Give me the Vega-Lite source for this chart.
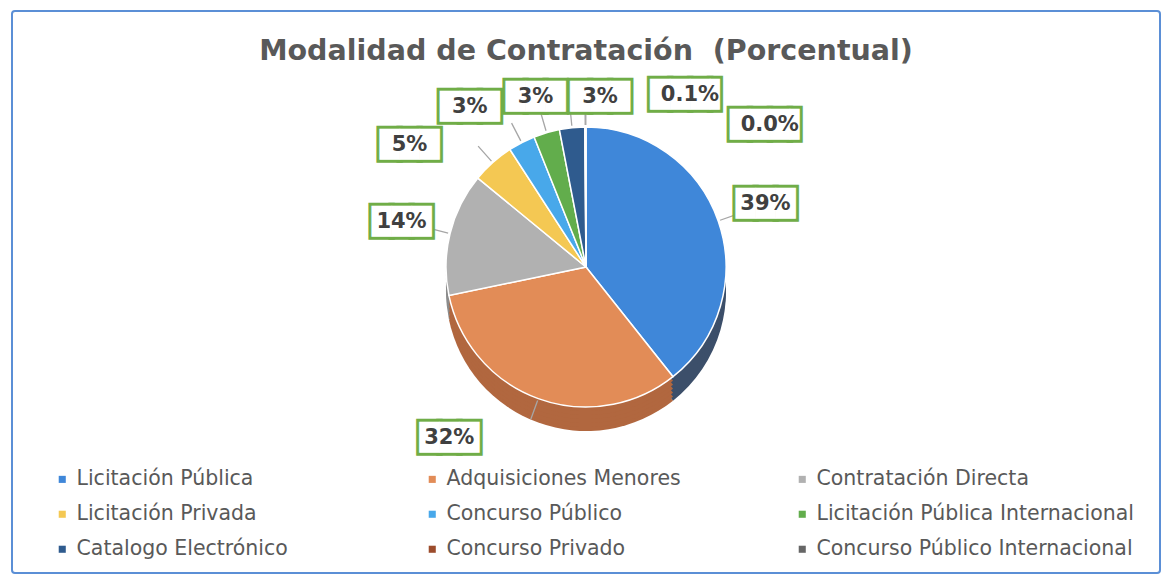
{
  "$schema": "https://vega.github.io/schema/vega-lite/v6.json",
  "width": 1148,
  "height": 562,
  "autosize": {"type": "none"},
  "padding": {"left": 12, "top": 11, "right": 7, "bottom": 6},
  "background": "white",
  "title": {
    "text": "Modalidad de Contratación\u00a0\u00a0(Porcentual)",
    "font": "DejaVu Sans",
    "fontSize": 28.5,
    "fontWeight": "bold",
    "color": "#595959",
    "anchor": "middle",
    "baseline": "alphabetic",
    "offset": -78
  },
  "config": {
    "view": {"stroke": null},
    "legend": {"padding": 0}
  },
  "resolve": {"scale": {"color": "independent"}},
  "data": {
    "values": [
      {"modalidad": "Licitación Pública", "valor": 39.3, "etiqueta": "39%", "orden": 1},
      {"modalidad": "Adquisiciones Menores", "valor": 32.4, "etiqueta": "32%", "orden": 2},
      {"modalidad": "Contratación Directa", "valor": 14.2, "etiqueta": "14%", "orden": 3},
      {"modalidad": "Licitación Privada", "valor": 4.9, "etiqueta": "5%", "orden": 4},
      {"modalidad": "Concurso Público", "valor": 3.1, "etiqueta": "3%", "orden": 5},
      {"modalidad": "Licitación Pública Internacional", "valor": 3.0, "etiqueta": "3%", "orden": 6},
      {"modalidad": "Catalogo Electrónico", "valor": 2.9, "etiqueta": "3%", "orden": 7},
      {"modalidad": "Concurso Privado", "valor": 0.1, "etiqueta": "0.1%", "orden": 8},
      {"modalidad": "Concurso Público Internacional", "valor": 0.04, "etiqueta": "0.0%", "orden": 9}
    ]
  },
  "encoding": {
    "theta": {"field": "valor", "type": "quantitative", "stack": true},
    "order": {"field": "orden", "type": "quantitative"}
  },
  "layer": [
    {
      "data": {"values": [{}]},
      "mark": {"type": "rect", "fillOpacity": 0, "stroke": "#5b8fd6", "strokeWidth": 2, "cornerRadius": 3},
      "encoding": {"theta": null, "order": null}
    },
    {
      "mark": {"type": "arc", "outerRadius": 140, "yOffset": -1},
      "encoding": {
        "color": {"field": "modalidad", "type": "nominal", "legend": null,
          "scale": {"domain": ["Licitación Pública", "Adquisiciones Menores", "Contratación Directa", "Licitación Privada", "Concurso Público", "Licitación Pública Internacional", "Catalogo Electrónico", "Concurso Privado", "Concurso Público Internacional"],
                    "range": ["#3c4f6a", "#b1673f", "#8b8b8b", "#c09a3a", "#3080b8", "#4a8a3a", "#223f64", "#703318", "#4a4a4a"]}}
      }
    },
    {
      "mark": {"type": "arc", "outerRadius": 140, "yOffset": -5},
      "encoding": {
        "color": {"field": "modalidad", "type": "nominal", "legend": null,
          "scale": {"domain": ["Licitación Pública", "Adquisiciones Menores", "Contratación Directa", "Licitación Privada", "Concurso Público", "Licitación Pública Internacional", "Catalogo Electrónico", "Concurso Privado", "Concurso Público Internacional"],
                    "range": ["#3c4f6a", "#b1673f", "#8b8b8b", "#c09a3a", "#3080b8", "#4a8a3a", "#223f64", "#703318", "#4a4a4a"]}}
      }
    },
    {
      "mark": {"type": "arc", "outerRadius": 140, "yOffset": -9},
      "encoding": {
        "color": {"field": "modalidad", "type": "nominal", "legend": null,
          "scale": {"domain": ["Licitación Pública", "Adquisiciones Menores", "Contratación Directa", "Licitación Privada", "Concurso Público", "Licitación Pública Internacional", "Catalogo Electrónico", "Concurso Privado", "Concurso Público Internacional"],
                    "range": ["#3c4f6a", "#b1673f", "#8b8b8b", "#c09a3a", "#3080b8", "#4a8a3a", "#223f64", "#703318", "#4a4a4a"]}}
      }
    },
    {
      "mark": {"type": "arc", "outerRadius": 140, "yOffset": -13},
      "encoding": {
        "color": {"field": "modalidad", "type": "nominal", "legend": null,
          "scale": {"domain": ["Licitación Pública", "Adquisiciones Menores", "Contratación Directa", "Licitación Privada", "Concurso Público", "Licitación Pública Internacional", "Catalogo Electrónico", "Concurso Privado", "Concurso Público Internacional"],
                    "range": ["#3c4f6a", "#b1673f", "#8b8b8b", "#c09a3a", "#3080b8", "#4a8a3a", "#223f64", "#703318", "#4a4a4a"]}}
      }
    },
    {
      "mark": {"type": "arc", "outerRadius": 140, "yOffset": -17},
      "encoding": {
        "color": {"field": "modalidad", "type": "nominal", "legend": null,
          "scale": {"domain": ["Licitación Pública", "Adquisiciones Menores", "Contratación Directa", "Licitación Privada", "Concurso Público", "Licitación Pública Internacional", "Catalogo Electrónico", "Concurso Privado", "Concurso Público Internacional"],
                    "range": ["#3c4f6a", "#b1673f", "#8b8b8b", "#c09a3a", "#3080b8", "#4a8a3a", "#223f64", "#703318", "#4a4a4a"]}}
      }
    },
    {
      "mark": {"type": "arc", "outerRadius": 140, "yOffset": -21},
      "encoding": {
        "color": {"field": "modalidad", "type": "nominal", "legend": null,
          "scale": {"domain": ["Licitación Pública", "Adquisiciones Menores", "Contratación Directa", "Licitación Privada", "Concurso Público", "Licitación Pública Internacional", "Catalogo Electrónico", "Concurso Privado", "Concurso Público Internacional"],
                    "range": ["#3c4f6a", "#b1673f", "#8b8b8b", "#c09a3a", "#3080b8", "#4a8a3a", "#223f64", "#703318", "#4a4a4a"]}}
      }
    },
    {
      "mark": {"type": "arc", "outerRadius": 140, "yOffset": -25, "stroke": "white", "strokeWidth": 1.5},
      "encoding": {
        "color": {"field": "modalidad", "type": "nominal",
          "scale": {"domain": ["Licitación Pública", "Adquisiciones Menores", "Contratación Directa", "Licitación Privada", "Concurso Público", "Licitación Pública Internacional", "Catalogo Electrónico", "Concurso Privado", "Concurso Público Internacional"],
                    "range": ["#3f87d9", "#e28c57", "#b1b1b1", "#f4c853", "#48a8ea", "#62ad4c", "#2f5b8e", "#9c4c2c", "#666666"]},
          "legend": {
            "title": null,
            "orient": "none",
            "legendX": 40,
            "legendY": 458,
            "columns": 3,
            "direction": "horizontal",
            "gridAlign": "all",
            "columnPadding": 27,
            "rowPadding": 14,
            "symbolType": "square",
            "symbolSize": 50,
            "symbolStrokeWidth": 0,
            "labelFont": "DejaVu Sans",
            "labelFontSize": 20.5,
            "labelColor": "#595959",
            "labelOffset": 4,
            "labelLimit": 400
          }
        }
      }
    },
    {
      "mark": {"type": "arc", "innerRadius": 142, "outerRadius": 162, "padAngle": 3.1416, "yOffset": -25, "stroke": "#a6a6a6", "strokeWidth": 1.3, "fillOpacity": 0},
      "encoding": {"detail": {"field": "modalidad", "type": "nominal"}}
    },
    {
      "mark": {"type": "text", "radius": 190, "yOffset": -25, "font": "DejaVu Sans", "fontSize": 26, "fill": "white", "stroke": "#70ad47", "strokeWidth": 6, "align": "center", "baseline": "middle",
        "text": {"expr": "length(datum.etiqueta) > 3 ? '███▌' : '███'"},
        "dx": {"expr": "datum.orden == 2 ? -72 : datum.orden == 4 ? -50 : datum.orden == 5 ? -29 : datum.orden == 6 ? 3 : datum.orden == 7 ? 33 : datum.orden == 8 ? 105 : datum.orden == 9 ? 184 : 0"},
        "dy": {"expr": "datum.orden == 2 ? -8 : datum.orden == 4 ? 20 : datum.orden == 5 ? 9 : datum.orden == 6 ? 12 : datum.orden == 7 ? 19 : datum.orden == 8 ? 18 : datum.orden == 9 ? 48 : 0"}},
      "encoding": {"detail": {"field": "modalidad", "type": "nominal"}}
    },
    {
      "mark": {"type": "text", "radius": 190, "yOffset": -25, "font": "DejaVu Sans", "fontSize": 26, "fill": "white", "align": "center", "baseline": "middle",
        "text": {"expr": "length(datum.etiqueta) > 3 ? '███▌' : '███'"},
        "dx": {"expr": "datum.orden == 2 ? -72 : datum.orden == 4 ? -50 : datum.orden == 5 ? -29 : datum.orden == 6 ? 3 : datum.orden == 7 ? 33 : datum.orden == 8 ? 105 : datum.orden == 9 ? 184 : 0"},
        "dy": {"expr": "datum.orden == 2 ? -8 : datum.orden == 4 ? 20 : datum.orden == 5 ? 9 : datum.orden == 6 ? 12 : datum.orden == 7 ? 19 : datum.orden == 8 ? 18 : datum.orden == 9 ? 48 : 0"}},
      "encoding": {"detail": {"field": "modalidad", "type": "nominal"}}
    },
    {
      "mark": {"type": "text", "radius": 190, "yOffset": -25, "font": "DejaVu Sans", "fontSize": 21, "fontWeight": "bold", "fill": "#404040", "align": "center", "baseline": "middle",
        "dx": {"expr": "datum.orden == 2 ? -72 : datum.orden == 4 ? -50 : datum.orden == 5 ? -29 : datum.orden == 6 ? 3 : datum.orden == 7 ? 33 : datum.orden == 8 ? 105 : datum.orden == 9 ? 184 : 0"},
        "dy": {"expr": "datum.orden == 2 ? -8 : datum.orden == 4 ? 20 : datum.orden == 5 ? 9 : datum.orden == 6 ? 12 : datum.orden == 7 ? 19 : datum.orden == 8 ? 18 : datum.orden == 9 ? 48 : 0"}},
      "encoding": {
        "detail": {"field": "modalidad", "type": "nominal"},
        "text": {"field": "etiqueta", "type": "nominal"}
      }
    }
  ]
}
